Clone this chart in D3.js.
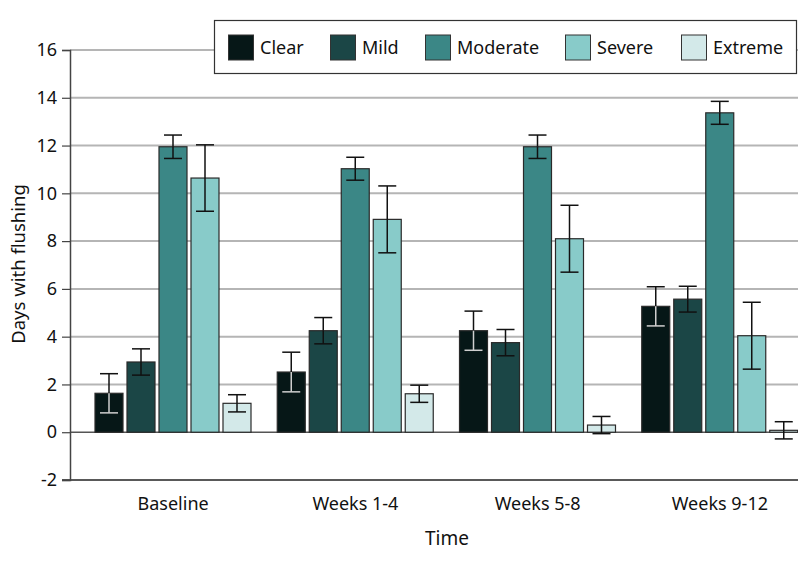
<!DOCTYPE html>
<html>
<head>
<meta charset="utf-8">
<script src="https://cdn.jsdelivr.net/npm/d3@7"></script>
<style>
  body { margin: 0; background: #fff; }
  svg { display: block; font-family: "Noto Sans", Roboto, sans-serif; }
</style>
</head>
<body>
<svg id="chart" width="798" height="566"></svg>
<script>
// ---- data ----
const categories = ["Baseline", "Weeks 1-4", "Weeks 5-8", "Weeks 9-12"];
const seriesNames = ["Clear", "Mild", "Moderate", "Severe", "Extreme"];
const clearVals    = [1.63, 2.52, 4.25, 5.27];
const mildVals     = [2.94, 4.25, 3.75, 5.57];
const moderateVals = [11.95, 11.03, 11.95, 13.37];
const severeVals   = [10.64, 8.91, 8.10, 4.04];
const extremeVals  = [1.21, 1.61, 0.30, 0.08];
const clearErr     = [0.82, 0.83, 0.82, 0.82];
const mildErr      = [0.55, 0.55, 0.55, 0.54];
const moderateErr  = [0.49, 0.48, 0.49, 0.48];
const severeErr    = [1.39, 1.40, 1.40, 1.40];
const extremeErr   = [0.36, 0.36, 0.36, 0.36];
const yTicks = [-2, 0, 2, 4, 6, 8, 10, 12, 14, 16];
const colors = ["#061717", "#1b4646", "#3b8786", "#88cbc9", "#d3e9e9"];

const values = [clearVals, mildVals, moderateVals, severeVals, extremeVals];
const errors = [clearErr, mildErr, moderateErr, severeErr, extremeErr];

const svg = d3.select("#chart");
const font = "'Noto Sans', Roboto, sans-serif";

const y = d3.scaleLinear().domain([-2, 16]).range([480, 50]);
const x0 = d3.scaleBand().domain(categories).range([82, 811]).paddingInner(0).paddingOuter(0);
const x1 = d3.scaleBand().domain(seriesNames).range([13, 169]).paddingInner(0.125).paddingOuter(0);

// gridlines
svg.append("g").selectAll("line")
  .data(yTicks.filter(t => t > 0))
  .join("line")
  .attr("x1", 70).attr("x2", 798)
  .attr("y1", d => y(d)).attr("y2", d => y(d))
  .attr("stroke", "#b5b5b5").attr("stroke-width", 2);

// zero line
svg.append("line")
  .attr("x1", 70).attr("x2", 798)
  .attr("y1", y(0)).attr("y2", y(0))
  .attr("stroke", "#555").attr("stroke-width", 1.5);

// bottom axis line
svg.append("line")
  .attr("x1", 62).attr("x2", 798)
  .attr("y1", y(-2)).attr("y2", y(-2))
  .attr("stroke", "#222").attr("stroke-width", 1.5);

// y axis
const yAxis = d3.axisLeft(y).tickValues(yTicks).tickSize(8).tickPadding(4).tickFormat(d => String(d));
const gy = svg.append("g").attr("transform", "translate(70,0)").call(yAxis);
gy.select(".domain").attr("stroke", "#444").attr("stroke-width", 1.5);
gy.selectAll(".tick line").attr("stroke", "#444").attr("stroke-width", 1.2);
gy.selectAll(".tick text").attr("font-family", font).attr("font-size", 18).attr("fill", "#111").attr("dx", -1);

// bars
const groups = svg.append("g").selectAll("g")
  .data(categories)
  .join("g")
  .attr("transform", d => `translate(${x0(d)},0)`);

seriesNames.forEach((s, si) => {
  groups.append("rect")
    .attr("x", x1(s))
    .attr("width", x1.bandwidth())
    .attr("y", (d, ci) => Math.min(y(values[si][ci]), y(0)))
    .attr("height", (d, ci) => Math.abs(y(0) - y(values[si][ci])))
    .attr("fill", colors[si])
    .attr("stroke", "#2a2a2a")
    .attr("stroke-width", 1.2);
});

// error bars
const capW = 18;
seriesNames.forEach((s, si) => {
  const cx = x1(s) + x1.bandwidth() / 2;
  const eg = groups.append("g");
  eg.each(function(d, ci) {
    const g = d3.select(this);
    const v = values[si][ci], e = errors[si][ci];
    const inside = si === 0 ? "#cfcfcf" : "#111";
    g.append("line").attr("x1", cx).attr("x2", cx).attr("y1", y(v + e)).attr("y2", y(v)).attr("stroke", "#111").attr("stroke-width", 1.5);
    g.append("line").attr("x1", cx - capW / 2).attr("x2", cx + capW / 2).attr("y1", y(v + e)).attr("y2", y(v + e)).attr("stroke", "#111").attr("stroke-width", 1.5);
    g.append("line").attr("x1", cx).attr("x2", cx).attr("y1", y(v)).attr("y2", y(v - e)).attr("stroke", inside).attr("stroke-width", 1.5);
    g.append("line").attr("x1", cx - capW / 2).attr("x2", cx + capW / 2).attr("y1", y(v - e)).attr("y2", y(v - e)).attr("stroke", inside).attr("stroke-width", 1.5);
  });
});

// x category labels
svg.append("g").selectAll("text")
  .data(categories)
  .join("text")
  .attr("x", d => x0(d) + x0.bandwidth() / 2)
  .attr("y", 510)
  .attr("text-anchor", "middle")
  .attr("font-family", font).attr("font-size", 18).attr("fill", "#111")
  .text(d => d);

// axis titles
svg.append("text")
  .attr("x", 447).attr("y", 545)
  .attr("text-anchor", "middle")
  .attr("font-family", font).attr("font-size", 19).attr("fill", "#111")
  .text("Time");

svg.append("text")
  .attr("transform", "translate(25,264) rotate(-90)")
  .attr("text-anchor", "middle")
  .attr("font-family", font).attr("font-size", 18.5).attr("fill", "#111")
  .text("Days with flushing");

// legend
const legend = svg.append("g");
legend.append("rect")
  .attr("x", 214.5).attr("y", 20.5).attr("width", 582).attr("height", 53)
  .attr("fill", "#fff").attr("stroke", "#333").attr("stroke-width", 1.2);
const legendX = [228, 330, 425, 565, 681];
seriesNames.forEach((s, i) => {
  legend.append("rect")
    .attr("x", legendX[i] + 0.5).attr("y", 35)
    .attr("width", 25).attr("height", 25)
    .attr("fill", colors[i]).attr("stroke", "#333").attr("stroke-width", 1);
  legend.append("text")
    .attr("x", legendX[i] + 32).attr("y", 54)
    .attr("font-family", font).attr("font-size", 18).attr("fill", "#111")
    .text(s);
});
</script>
</body>
</html>
